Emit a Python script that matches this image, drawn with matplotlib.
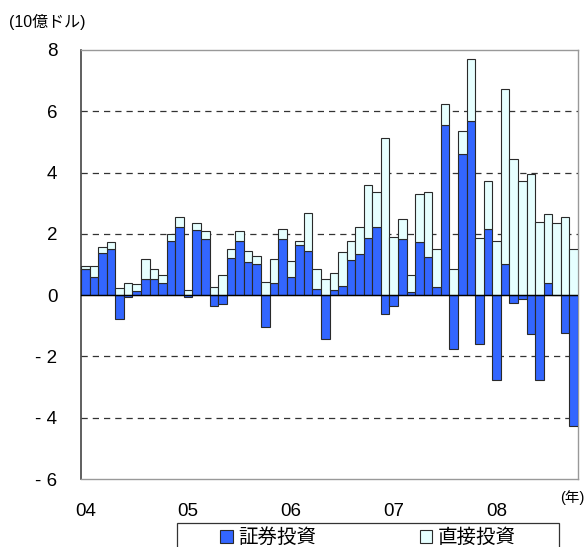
import matplotlib
matplotlib.use("Agg")
import matplotlib.pyplot as plt
import numpy as np
from matplotlib.patches import Patch, Rectangle

plt.rcParams["font.family"] = ["Liberation Sans", "Noto Sans CJK JP", "DejaVu Sans"]

# 月次（2004年1月～2008年10月）, 10億ドル
securities = [
    0.84, 0.59, 1.39, 1.49, -0.79, -0.07, 0.14, 0.54, 0.54, 0.41, 1.78, 2.22,
    -0.05, 2.12, 1.83, -0.35, -0.30, 1.20, 1.77, 1.09, 1.03, -1.03, 0.41, 1.82,
    0.59, 1.65, 1.45, 0.20, -1.43, 0.18, 0.29, 1.16, 1.33, 1.87, 2.23, -0.60,
    -0.35, 1.82, 0.09, 1.74, 1.25, 0.25, 5.54, -1.77, 4.59, 5.67, -1.58, 2.17,
    -2.77, 1.03, -0.27, -0.14, -1.28, -2.77, 0.41, 0.00, -1.25, -4.27,
]
direct = [
    0.12, 0.37, 0.19, 0.23, 0.22, 0.38, 0.21, 0.63, 0.30, 0.26, 0.22, 0.33,
    0.16, 0.24, 0.27, 0.27, 0.67, 0.29, 0.33, 0.36, 0.25, 0.43, 0.76, 0.35,
    0.52, 0.12, 1.23, 0.64, 0.54, 0.55, 1.12, 0.61, 0.90, 1.71, 1.14, 5.13,
    1.90, 0.68, 0.58, 1.55, 2.12, 1.24, 0.71, 0.84, 0.76, 2.03, 1.87, 1.56,
    1.77, 5.69, 4.43, 3.73, 3.95, 2.39, 2.25, 2.36, 2.55, 1.49,
]
year_labels = ["04", "05", "06", "07", "08"]

BLUE = "#3366ff"
CYAN = "#e6ffff"
EDGE = "#2a2a2a"

x = np.arange(len(securities))
sec = np.array(securities)
dirv = np.array(direct)

fig = plt.figure(figsize=(5.87, 5.47), dpi=100)
ax = fig.add_axes([81 / 587, 1 - 479 / 547, 497 / 587, 429 / 547])

ax.bar(x, sec, width=1.0, color=BLUE, edgecolor=EDGE, linewidth=0.8, zorder=3)
ax.bar(x, dirv, width=1.0, bottom=np.clip(sec, 0, None), color=CYAN,
       edgecolor=EDGE, linewidth=0.8, zorder=3)

ax.set_xlim(-0.5, len(x) - 0.5)
ax.set_ylim(-6, 8)
yt = [8, 6, 4, 2, 0, -2, -4, -6]
ax.set_yticks(yt)
ax.set_yticklabels([str(v) if v >= 0 else f"- {-v}" for v in yt], fontsize=13.5)
ax.set_xticks(np.arange(len(year_labels)) * 12)
ax.set_xticklabels(year_labels, fontsize=13.5)
ax.tick_params(axis="y", length=0, pad=17)
ax.tick_params(axis="x", length=0, pad=17)

for v in [6, 4, 2, -2, -4]:
    ax.axhline(v, color="#333333", linewidth=0.9, linestyle=(0, (5, 4)), zorder=1)
ax.axhline(0, color="black", linewidth=1.0, zorder=4)

ax.spines["left"].set_color("#444444")
ax.spines["left"].set_linewidth(1.2)
for s in ["top", "bottom", "right"]:
    ax.spines[s].set_color("#999999")
    ax.spines[s].set_linewidth(1.0)

fig.text(9 / 587, 1 - 22 / 547, "(10億ドル)", fontsize=11.5, va="center", ha="left")
fig.text(572 / 587, 1 - 498 / 547, "(年)", fontsize=10.5, va="center", ha="center")

# 凡例の枠（下端は図の外まで伸びる）
fig.patches.append(Rectangle((177 / 587, -0.05), 382 / 587, 0.05 + 1 - 523 / 547,
                             transform=fig.transFigure, facecolor="none",
                             edgecolor="#333333", linewidth=0.9))
handles = [
    Patch(facecolor=BLUE, edgecolor=EDGE, linewidth=0.8, label="証券投資"),
    Patch(facecolor=CYAN, edgecolor=EDGE, linewidth=0.8, label="直接投資"),
]
fig.legend(
    handles=handles, loc="center", ncol=2,
    bbox_to_anchor=(368 / 587, 1 - 538 / 547),
    fontsize=14, handlelength=0.65, handleheight=0.65, handletextpad=0.3,
    columnspacing=5.3, frameon=False, borderpad=0, borderaxespad=0,
)

fig.savefig("out.png", dpi=100)
